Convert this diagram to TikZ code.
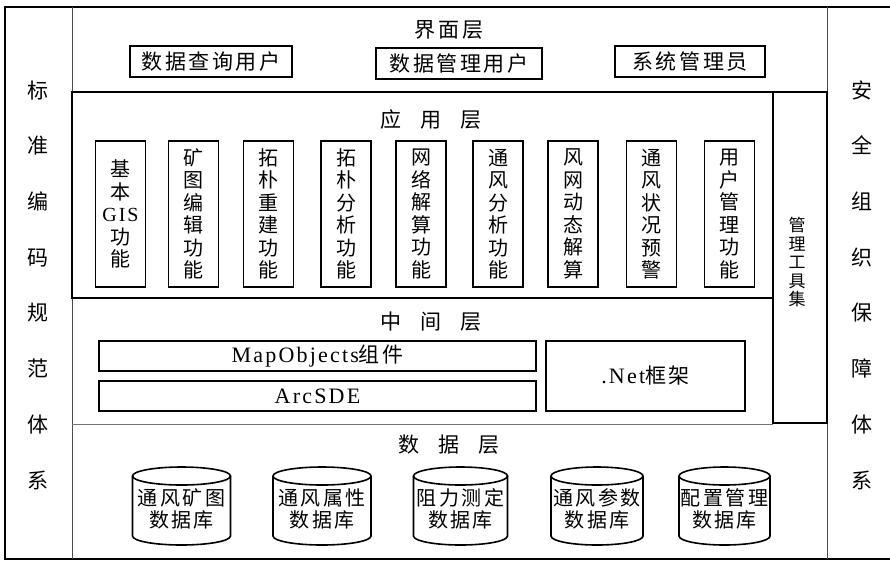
\documentclass[tikz,border=0pt]{standalone}
\usepackage{fontspec}
\setmainfont{Noto Sans CJK SC}
\newfontfamily\cjkwide[LetterSpace=12]{Noto Sans CJK SC}
\newfontfamily\latf[LetterSpace=10]{Liberation Serif}
\newcommand\cylfor[2]{%
  \draw[cylline] ([shift={(-#2pt,33pt)}]#1.center) -- ([shift={(-#2pt,-27pt)}]#1.center)
     arc[start angle=180,end angle=360,x radius=#2pt,y radius=9pt]
     -- ([shift={(#2pt,33pt)}]#1.center);
  \draw[cylline] ([yshift=33pt]#1.center) ellipse[x radius=#2pt,y radius=9pt];
}
\begin{document}
\begin{tikzpicture}[x=1pt,y=-1pt,
  every node/.style={inner sep=0pt, outer sep=0pt},
  frameline/.style={line width=2.2pt},
  divline/.style={line width=0.9pt, black!70},
  layerbox/.style={draw, line width=1.6pt},
  ubox/.style={draw, line width=1.6pt, minimum height=31pt, font=\cjkwide\fontsize{21}{24}\selectfont},
  fbox/.style={draw, line width=1.4pt, minimum width=50pt, minimum height=146pt, align=center, font=\fontsize{20}{22.5}\selectfont},
  mbox/.style={draw, line width=1.6pt, font=\cjkwide\fontsize{21}{24}\selectfont},
  title/.style={font=\fontsize{21}{24}\selectfont},
  side/.style={align=center, font=\fontsize{21}{55.7}\selectfont},
  cyltext/.style={align=center, font=\cjkwide\fontsize{20}{22}\selectfont},
  cylline/.style={line width=1.6pt}
]
\useasboundingbox (0,0) rectangle (890,560);
\fill[white] (0,0) rectangle (890,560);

% outer frame and column dividers
\draw[frameline] (890,7) -- (5,7) -- (5,559) -- (890,559);
\draw[divline] (72,7) -- (72,559);
\draw[divline] (827,7) -- (827,559);

% side texts
\node[side] (lstd) at (38,285) {标\\准\\编\\码\\规\\范\\体\\系};
\node[side] (rsec) at (862,285) {安\\全\\组\\织\\保\\障\\体\\系};

% interface layer
\node[title, font=\cjkwide\fontsize{21}{24}\selectfont] (tui) at (449,30) {界面层};
\node[ubox, minimum width=162pt] (u1) at (211,61.5) {数据查询用户};
\node[ubox, minimum width=166pt] (u2) at (459,63.5) {数据管理用户};
\node[ubox, minimum width=150pt] (u3) at (690,61.5) {系统管理员};

% application layer
\node[layerbox, minimum width=701pt, minimum height=206pt] (app) at (422.5,195) {};
\node[layerbox, minimum width=54pt, minimum height=331pt] (tools) at (800,257.5) {};
\node[align=center, font=\fontsize{17}{18.5}\selectfont] (toolt) at (797,262) {管\\理\\工\\具\\集};
\node[title] (tapp) at (431,120) {应\hspace{0.9em}用\hspace{0.9em}层};

\node[fbox] (f1) at (120.5,214) {基\\本\\{\latf GIS}\\功\\能};
\node[fbox] (f2) at (193.5,214) {矿\\图\\编\\辑\\功\\能};
\node[fbox] (f3) at (268.5,214) {拓\\朴\\重\\建\\功\\能};
\node[fbox] (f4) at (346,214) {拓\\朴\\分\\析\\功\\能};
\node[fbox] (f5) at (421,214) {网\\络\\解\\算\\功\\能};
\node[fbox] (f6) at (498,214) {通\\风\\分\\析\\功\\能};
\node[fbox] (f7) at (573,214) {风\\网\\动\\态\\解\\算};
\node[fbox] (f8) at (651.5,214) {通\\风\\状\\况\\预\\警};
\node[fbox] (f9) at (729.5,214) {用\\户\\管\\理\\功\\能};

% middle layer
\node[title] (tmid) at (431,322) {中\hspace{0.9em}间\hspace{0.9em}层};
\node[mbox, minimum width=437pt, minimum height=30pt] (mo) at (317.5,356) {{\latf\fontsize{22}{24}\selectfont MapObjects}组件};
\node[mbox, minimum width=437pt, minimum height=30pt] (sde) at (317.5,396) {\latf\fontsize{22}{24}\selectfont ArcSDE};
\node[mbox, minimum width=199pt, minimum height=70pt] (net) at (645.5,376) {{\latf\fontsize{22}{24}\selectfont .Net}框架};

% data layer
\draw[divline, black!55] (72,424) -- (773,424);
\node[title] (tdat) at (449,445) {数\hspace{0.9em}据\hspace{0.9em}层};

\node[cyltext] (c1) at (181.5,509) {通风矿图\\数据库};
\node[cyltext] (c2) at (322,509) {通风属性\\数据库};
\node[cyltext] (c3) at (460.5,509) {阻力测定\\数据库};
\node[cyltext] (c4) at (597,509) {通风参数\\数据库};
\node[cyltext] (c5) at (724.5,509) {配置管理\\数据库};
\cylfor{c1}{49}
\cylfor{c2}{49}
\cylfor{c3}{47}
\cylfor{c4}{46}
\cylfor{c5}{45.5}
\end{tikzpicture}
\end{document}
